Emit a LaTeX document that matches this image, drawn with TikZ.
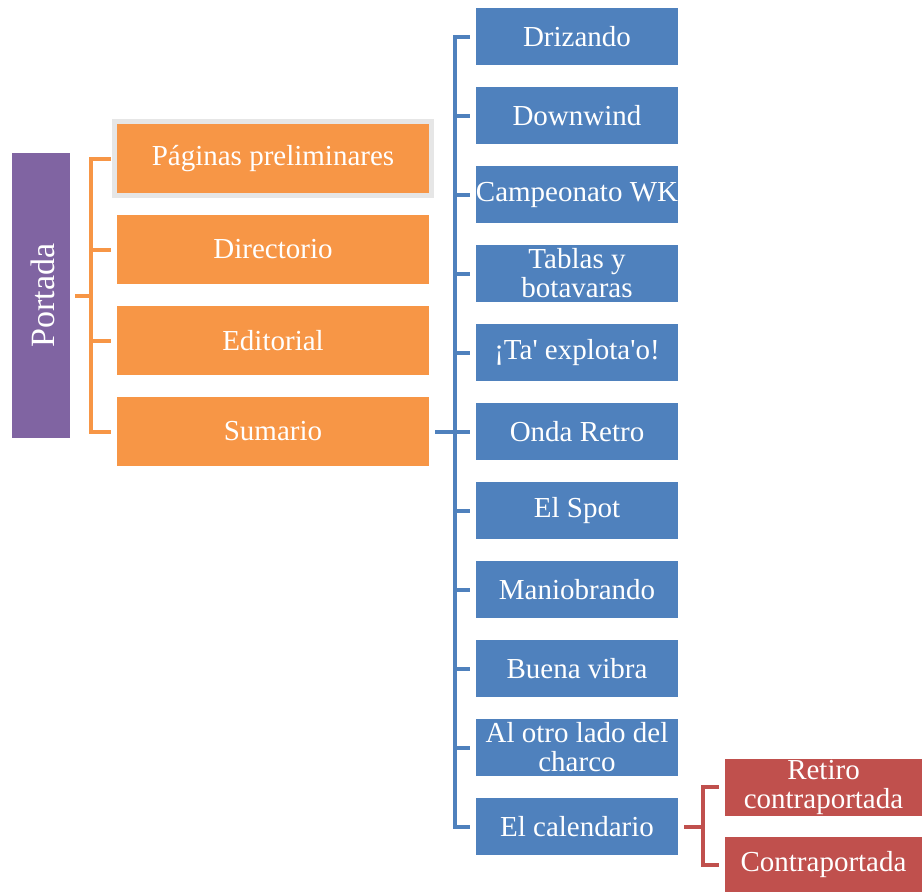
\documentclass[tikz,border=0pt]{standalone}
\usepackage{fontspec}
\setmainfont{Liberation Serif}
\definecolor{cpurple}{HTML}{8064A2}
\definecolor{corange}{HTML}{F79646}
\definecolor{cblue}{HTML}{4F81BD}
\definecolor{cred}{HTML}{C0504D}
\definecolor{chl}{HTML}{E6E6E6}
\begin{document}
\begin{tikzpicture}[x=1pt,y=1pt,
  box/.style={inner sep=0pt, outer sep=0pt, text=white, align=center,
    font=\fontsize{29}{29}\selectfont},
  obox/.style={box, fill=corange, minimum width=312pt, minimum height=69pt},
  bbox/.style={box, fill=cblue, minimum width=202pt, minimum height=57pt},
  rbox/.style={box, fill=cred, minimum width=197pt, minimum height=57pt},
  oline/.style={draw=corange, line width=4pt},
  bline/.style={draw=cblue, line width=4pt},
  rline/.style={draw=cred, line width=4pt}]
\useasboundingbox (0,0) rectangle (922,-892);
% Portada
\node[box, fill=cpurple, minimum width=58pt, minimum height=285pt] (p) at (41,-295.5) {};
\node[text=white, rotate=90, inner sep=0pt, font=\fontsize{34}{36}\selectfont] (pt) at ([xshift=2pt]p.center) {Portada};
% highlight
\node[fill=chl, minimum width=322pt, minimum height=79pt, inner sep=0pt] (hl) at (273,-158.5) {};
% orange
\node[obox] (o1) at (273,-158.5) {Páginas preliminares};
\node[obox] (o2) at (273,-249.5) {Directorio};
\node[obox] (o3) at (273,-340.5) {Editorial};
\node[obox] (o4) at (273,-431.5) {Sumario};
% blue
\node[bbox] (b1) at (577,-36.5) {Drizando};
\node[bbox] (b2) at (577,-115.5) {Downwind};
\node[bbox] (b3) at (577,-194.5) {Campeonato WK};
\node[bbox] (b4) at (577,-273.5) {Tablas y\\botavaras};
\node[bbox] (b5) at (577,-352.5) {¡Ta\textquotesingle{} explota\textquotesingle{}o!};
\node[bbox] (b6) at (577,-431.5) {Onda Retro};
\node[bbox] (b7) at (577,-510.5) {El Spot};
\node[bbox] (b8) at (577,-589.5) {Maniobrando};
\node[bbox] (b9) at (577,-668.5) {Buena vibra};
\node[bbox] (b10) at (577,-747.5) {Al otro lado del\\charco};
\node[bbox] (b11) at (577,-826.5) {El calendario};
% red
\node[rbox] (r1) at (823.5,-787) {Retiro\\contraportada};
\node[rbox, minimum height=56pt] (r2) at (823.5,-865) {Contraportada};
% orange bracket
\coordinate (os) at (91,-295.5);
\draw[oline] ([xshift=5pt]p.east) -- (os);
\draw[oline] ([xshift=-6pt]o1.west) -- (o1.west -| os) -- (o4.west -| os) -- ([xshift=-6pt]o4.west);
\foreach \i in {2,3} \draw[oline] (o\i.west -| os) -- ([xshift=-6pt]o\i.west);
% blue bracket
\coordinate (bs) at (455,-431.5);
\draw[bline] ([xshift=6pt]o4.east) -- (bs);
\draw[bline] ([xshift=-6pt]b1.west) -- (b1.west -| bs) -- (b11.west -| bs) -- ([xshift=-6pt]b11.west);
\foreach \i in {2,...,10} \draw[bline] (b\i.west -| bs) -- ([xshift=-6pt]b\i.west);
% red bracket
\coordinate (rs) at (703,-826.5);
\draw[rline] ([xshift=6pt]b11.east) -- (rs);
\draw[rline] ([xshift=-6pt]r1.west) -- (r1.west -| rs) -- (r2.west -| rs) -- ([xshift=-6pt]r2.west);
\end{tikzpicture}
\end{document}
